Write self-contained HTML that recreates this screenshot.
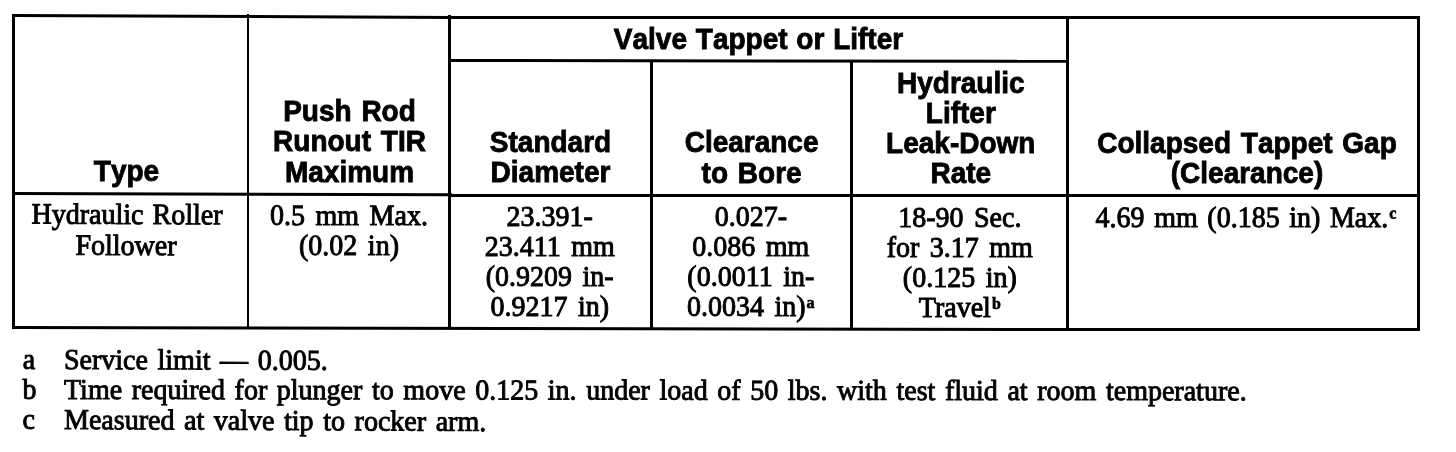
<!DOCTYPE html>
<html><head><meta charset="utf-8">
<style>
html,body{margin:0;padding:0;background:#fff;}
#page{position:relative;width:1456px;height:452px;overflow:hidden;background:#fff;filter:grayscale(1);}
.l{position:absolute;background:#000;transform-origin:0 0;}
.h,.d,.f{position:absolute;white-space:nowrap;color:#000;}
.h{font-family:"Liberation Sans",sans-serif;font-weight:bold;font-size:28px;line-height:30px;width:600px;margin-left:-300px;text-align:center;-webkit-text-stroke:0.8px #000;word-spacing:2px;font-kerning:none;transform-origin:50% 24.0px;transform:scaleY(1.08);}
.d{font-family:"Liberation Serif",serif;font-size:28px;line-height:30px;width:600px;margin-left:-300px;text-align:center;-webkit-text-stroke:0.9px #000;word-spacing:3.5px;transform-origin:50% 24.4px;transform:scaleY(1.05);}
.f{font-family:"Liberation Serif",serif;font-size:28px;line-height:30px;-webkit-text-stroke:0.9px #000;word-spacing:2.6px;transform-origin:0 24.4px;transform:scaleY(1.03);}
.s{font-size:16px;font-weight:bold;line-height:0;position:relative;top:-7.8px;margin-left:1px;-webkit-text-stroke:0.6px #000;}
</style></head><body>
<div id="page">
<div class="l" style="left:12px;top:14px;width:440px;height:3px;transform:rotate(0.26deg)"></div>
<div class="l" style="left:450px;top:16px;width:970px;height:3px"></div>
<div class="l" style="left:12px;top:14px;width:3px;height:315px"></div>
<div class="l" style="left:1417px;top:16px;width:3px;height:314px"></div>
<div class="l" style="left:12px;top:326px;width:1030px;height:3px;transform:rotate(0.11deg)"></div>
<div class="l" style="left:1040px;top:328px;width:380px;height:3px"></div>
<div class="l" style="left:12px;top:192px;width:440px;height:3px;transform:rotate(0.17deg)"></div>
<div class="l" style="left:450px;top:194px;width:970px;height:3px"></div>
<div class="l" style="left:448px;top:59px;width:620px;height:3px;transform:rotate(0.08deg)"></div>
<div class="l" style="left:247px;top:14px;width:2px;height:315px"></div>
<div class="l" style="left:448px;top:15px;width:3px;height:314px"></div>
<div class="l" style="left:650px;top:60px;width:2.8px;height:269px"></div>
<div class="l" style="left:850px;top:60px;width:3px;height:269px"></div>
<div class="l" style="left:1066px;top:16px;width:3px;height:314px"></div>
<div class="h" style="left:758.5px;top:25.1px;word-spacing:1px">Valve Tappet or Lifter</div>
<div class="h" style="left:126.5px;top:156.8px">Type</div>
<div class="h" style="left:349.5px;top:97.2px">Push Rod</div>
<div class="h" style="left:349.5px;top:127.3px">Runout TIR</div>
<div class="h" style="left:349.5px;top:157.6px">Maximum</div>
<div class="h" style="left:550.5px;top:128.3px">Standard</div>
<div class="h" style="left:550.5px;top:158.4px">Diameter</div>
<div class="h" style="left:751.6px;top:128.4px">Clearance</div>
<div class="h" style="left:751.6px;top:158.5px">to Bore</div>
<div class="h" style="left:960.8px;top:68.5px">Hydraulic</div>
<div class="h" style="left:960.8px;top:98.7px">Lifter</div>
<div class="h" style="left:960.8px;top:128.9px">Leak-Down</div>
<div class="h" style="left:960.8px;top:159.1px">Rate</div>
<div class="h" style="left:1247px;top:129.2px">Collapsed Tappet Gap</div>
<div class="h" style="left:1247px;top:159.3px">(Clearance)</div>
<div class="d" style="left:127.3px;top:200.1px;transform:rotate(0.24deg) scaleY(1.05);word-spacing:2.2px">Hydraulic Roller</div>
<div class="d" style="left:126.3px;top:230.6px;transform:rotate(0.24deg) scaleY(1.05)">Follower</div>
<div class="d" style="left:348.7px;top:200.8px;transform:rotate(0.1deg) scaleY(1.05)">0.5 mm Max.</div>
<div class="d" style="left:348.7px;top:231.0px;transform:rotate(0.1deg) scaleY(1.05)">(0.02 in)</div>
<div class="d" style="left:549.7px;top:201.5px">23.391-</div>
<div class="d" style="left:549.7px;top:231.5px">23.411 mm</div>
<div class="d" style="left:549.7px;top:261.7px">(0.9209 in-</div>
<div class="d" style="left:549.7px;top:291.8px">0.9217 in)</div>
<div class="d" style="left:750.8px;top:201.9px">0.027-</div>
<div class="d" style="left:750.8px;top:232.0px">0.086 mm</div>
<div class="d" style="left:750.8px;top:262.1px">(0.0011 in-</div>
<div class="d" style="left:750.8px;top:292.3px">0.0034 in)<span class="s">a</span></div>
<div class="d" style="left:959.8px;top:203.0px">18-90 Sec.</div>
<div class="d" style="left:959.8px;top:233.0px">for 3.17 mm</div>
<div class="d" style="left:959.8px;top:262.9px">(0.125 in)</div>
<div class="d" style="left:959.8px;top:292.7px">Travel<span class="s">b</span></div>
<div class="d" style="left:1246.0px;top:202.6px;transform:rotate(-0.04deg) scaleY(1.05);word-spacing:2.6px">4.69 mm (0.185 in) Max.<span class="s">c</span></div>
<div class="f" style="left:22.8px;top:344.6px">a</div>
<div class="f" style="left:63.6px;top:344.7px;transform:rotate(0.19deg) scaleY(1.03)">Service limit — 0.005.</div>
<div class="f" style="left:22.5px;top:374.6px">b</div>
<div class="f" style="left:64.0px;top:375.0px;transform:rotate(0.06deg) scaleY(1.03)">Time required for plunger to move 0.125 in. under load of 50 lbs. with test fluid at room temperature.</div>
<div class="f" style="left:22.6px;top:404.5px">c</div>
<div class="f" style="left:63.8px;top:404.5px;transform:rotate(0.27deg) scaleY(1.03)">Measured at valve tip to rocker arm.</div>
</div>
</body></html>
